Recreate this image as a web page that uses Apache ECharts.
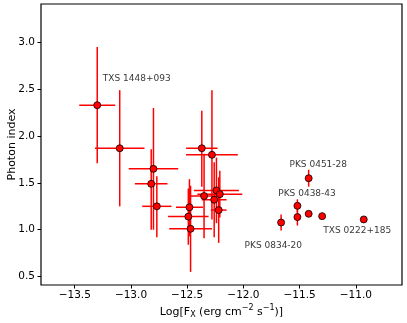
<!DOCTYPE html>
<html>
<head>
<meta charset="utf-8">
<script src="https://cdn.jsdelivr.net/npm/echarts@6/dist/echarts.min.js"></script>
<style>
  html, body { margin: 0; padding: 0; background: #fff; }
  #chart { width: 407px; height: 323px; }
</style>
</head>
<body>
<div id="chart"></div>
<script>
// source flux, photon index and their errors
const logFx  = [-13.30, -13.10, -12.80, -12.82, -12.77, -12.37, -12.28, -12.48, -12.49, -12.47, -12.35, -12.24, -12.21, -12.26, -12.22, -11.42, -11.52, -11.52, -11.42, -11.30, -10.93, -11.665];
const gamma  = [2.33, 1.87, 1.65, 1.49, 1.25, 1.87, 1.80, 1.24, 1.14, 1.01, 1.36, 1.42, 1.38, 1.32, 1.21, 1.55, 1.255, 1.135, 1.17, 1.145, 1.11, 1.077];
const fxErr  = [0.16, 0.22, 0.22, 0.145, 0.13, 0.14, 0.23, 0.12, 0.18, 0.19, 0.13, 0.20, 0.20, 0.11, 0.07, 0, 0, 0, 0, 0, 0, 0];
const gErrLo = [0.62, 0.62, 0.65, 0.49, 0.33, 0.41, 0.69, 0.31, 0.30, 0.46, 0.45, 0.35, 0.25, 0.40, 0.35, 0.09, 0.07, 0.09, 0, 0, 0, 0.085];
const gErrHi = [0.62, 0.62, 0.65, 0.37, 0.32, 0.40, 0.69, 0.30, 0.30, 0.46, 0.45, 0.35, 0.25, 0.40, 0.35, 0.09, 0.07, 0.09, 0, 0, 0, 0.085];

// source names written next to the points (text left edge, in data units)
const labelNames = ['TXS 1448+093', 'PKS 0451-28', 'PKS 0438-43', 'PKS 0834-20', 'TXS 0222+185'];
const labelX = [-13.25, -11.59, -11.69, -11.99, -11.29];
const labelY = [2.61, 1.70, 1.39, 0.83, 0.99];

const xTicks = [-13.5, -13.0, -12.5, -12.0, -11.5, -11.0];
const yTicks = [0.5, 1.0, 1.5, 2.0, 2.5, 3.0];

const FONT = 'DejaVu Sans';

const errData = logFx.map((x, i) => [x, gamma[i], fxErr[i], gErrLo[i], gErrHi[i]]);
const ptData = logFx.map((x, i) => [x, gamma[i]]);
const lblData = labelNames.map((n, i) => ({ name: n, value: [labelX[i], labelY[i]] }));

const chart = echarts.init(document.getElementById('chart'));
chart.setOption({
  animation: false,
  textStyle: { fontFamily: FONT },
  grid: {
    left: 41, right: 5, top: 4, bottom: 38,
    outerBoundsMode: 'none',
    containLabel: false,
    show: true, borderColor: '#000', borderWidth: 1.2, backgroundColor: 'transparent'
  },
  xAxis: {
    type: 'value',
    min: -13.8,
    max: -10.59,
    name: '{n|Log[F}{sub|X}{n| (erg cm}{sup|−2}{n| s}{sup|−1}{n|)]}',
    nameLocation: 'middle',
    nameMoveOverlap: false,
    nameGap: 19,
    nameTextStyle: {
      color: '#000',
      rich: {
        n: { fontSize: 11, fontFamily: FONT, color: '#000' },
        sub: { fontSize: 8, fontFamily: FONT, color: '#000', padding: [6, 0, 0, 0] },
        sup: { fontSize: 8, fontFamily: FONT, color: '#000', padding: [0, 0, 8, 0] }
      }
    },
    axisLine: { show: false },
    axisTick: { show: true, customValues: xTicks, length: 3.5, lineStyle: { color: '#000', width: 1 } },
    axisLabel: {
      customValues: xTicks,
      margin: 5,
      color: '#000',
      fontSize: 10.5,
      fontFamily: FONT,
      formatter: v => v.toFixed(1).replace('-', '\u2212')
    },
    splitLine: { show: false }
  },
  yAxis: {
    type: 'value',
    min: 0.41,
    max: 3.41,
    name: 'Photon index',
    nameLocation: 'middle',
    nameMoveOverlap: false,
    nameGap: 23,
    nameTextStyle: { color: '#000', fontSize: 11, fontFamily: FONT },
    axisLine: { show: false },
    axisTick: { show: true, customValues: yTicks, length: 3.5, lineStyle: { color: '#000', width: 1 } },
    axisLabel: {
      customValues: yTicks,
      margin: 6,
      color: '#000',
      fontSize: 10.5,
      fontFamily: FONT,
      formatter: v => v.toFixed(1)
    },
    splitLine: { show: false }
  },
  series: [
    {
      type: 'custom',
      clip: true,
      data: errData,
      encode: { x: 0, y: 1 },
      renderItem: function (params, api) {
        const x = api.value(0), y = api.value(1);
        const xe = api.value(2), lo = api.value(3), hi = api.value(4);
        const l = api.coord([x - xe, y]), r = api.coord([x + xe, y]);
        const t = api.coord([x, y + hi]), b = api.coord([x, y - lo]);
        const st = { stroke: '#ff0000', lineWidth: 1.5 };
        return {
          type: 'group',
          children: [
            { type: 'line', shape: { x1: l[0], y1: l[1], x2: r[0], y2: r[1] }, style: st },
            { type: 'line', shape: { x1: t[0], y1: t[1], x2: b[0], y2: b[1] }, style: st }
          ]
        };
      },
      z: 2
    },
    {
      type: 'scatter',
      data: ptData,
      symbol: 'circle',
      symbolSize: 7,
      itemStyle: { color: '#ff0000', borderColor: '#000', borderWidth: 0.8, opacity: 1 },
      z: 3
    },
    {
      type: 'scatter',
      data: lblData,
      symbolSize: 0,
      silent: true,
      label: {
        show: true,
        position: 'right',
        distance: 0,
        formatter: p => p.name,
        color: '#000',
        fontSize: 9,
        fontFamily: FONT
      },
      z: 4
    }
  ]
});
</script>
</body>
</html>
